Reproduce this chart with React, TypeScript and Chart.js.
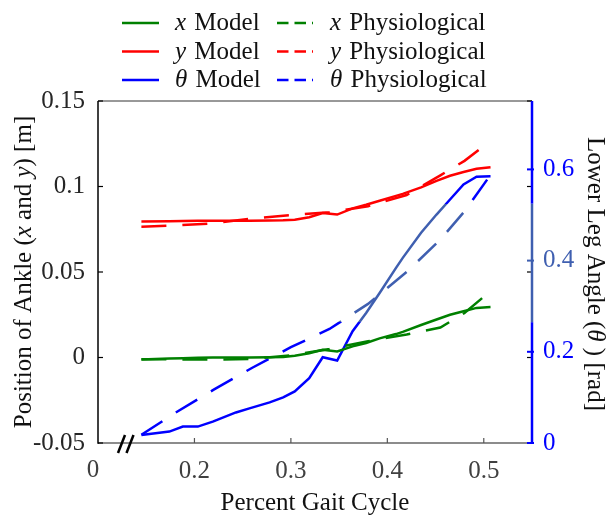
import React, { useEffect, useRef } from 'react';
import { Chart, registerables } from 'chart.js';

Chart.register(...registerables);

// ---------- data ----------
const modelX = [0.145, 0.174, 0.188, 0.2035, 0.219, 0.243, 0.257, 0.278, 0.292, 0.304, 0.319, 0.333, 0.348, 0.364, 0.378, 0.392, 0.409, 0.416, 0.435, 0.451, 0.465, 0.479, 0.4925, 0.507];
const xModel = [-0.0012, -0.0006, -0.0004, -0.0002, 0, 0, 0, 0.0001, 0.0003, 0.001, 0.0025, 0.0045, 0.0035, 0.0065, 0.0085, 0.0112, 0.0137, 0.015, 0.019, 0.0222, 0.025, 0.027, 0.029, 0.0295];
const yModel = [0.0796, 0.0797, 0.0798, 0.0799, 0.08, 0.08, 0.08, 0.0801, 0.0802, 0.0806, 0.082, 0.0845, 0.0836, 0.0872, 0.0893, 0.0917, 0.0945, 0.0957, 0.0995, 0.1033, 0.1063, 0.1085, 0.1104, 0.1113];
const thetaModel = [0.0176, 0.025, 0.036, 0.036, 0.047, 0.067, 0.076, 0.089, 0.1, 0.113, 0.142, 0.188, 0.181, 0.245, 0.285, 0.329, 0.384, 0.406, 0.461, 0.501, 0.534, 0.567, 0.584, 0.585];

const physioX = [0.145, 0.18, 0.22, 0.26, 0.3, 0.34, 0.38, 0.42, 0.455, 0.48, 0.503];
const xPhysio = [-0.001, -0.0011, -0.0012, -0.0008, 0.0012, 0.005, 0.0095, 0.0135, 0.0175, 0.026, 0.037];
const yPhysio = [0.0765, 0.0772, 0.0785, 0.0813, 0.0833, 0.0849, 0.0885, 0.095, 0.1065, 0.115, 0.125];
const thetaPhysioX = [0.145, 0.18, 0.22, 0.26, 0.3, 0.34, 0.38, 0.42, 0.455, 0.48, 0.507];
const thetaPhysio = [0.018, 0.066, 0.117, 0.165, 0.21, 0.25, 0.305, 0.375, 0.446, 0.508, 0.588];

const xTicks = [0.1, 0.2, 0.3, 0.4, 0.5];
const xTickLabels = ['0', '0.2', '0.3', '0.4', '0.5'];
const leftTicks = [-0.05, 0, 0.05, 0.1, 0.15];
const leftTickLabels = ['-0.05', '0', '0.05', '0.1', '0.15'];
const rightTicks = [0, 0.2, 0.4, 0.6];
const rightTickLabels = ['0', '0.2', '0.4', '0.6'];

const legendVars = ['x', 'y', 'θ'];
const legendKinds = ['Model', 'Physiological'];

const xTitle = 'Percent Gait Cycle';
const leftTitle = [
  { t: 'Position of Ankle (', i: false },
  { t: 'x', i: true },
  { t: ' and ', i: false },
  { t: 'y', i: true },
  { t: ') [m]', i: false },
];
const rightTitle = [
  { t: 'Lower Leg Angle (', i: false },
  { t: 'θ', i: true },
  { t: ' ) [rad]', i: false },
];

// ---------- styles ----------
const FAMILY = '"Liberation Serif", "Times New Roman", serif';
const FS = 25;
const GREEN = '#008000';
const RED = '#ff0000';
const BLUE = '#0000ff';
const STEEL = '#3f5fb0';
const BAND_LO = 0.265;
const BAND_HI = 0.525;
const PLOT_DASH = [25, 16];
const LEG_DASH = [11.5, 6];

const zip = (xs: number[], ys: number[]) => xs.map((x, i) => ({ x, y: ys[i] }));

function thetaStroke(ctx: any) {
  const chart = ctx.chart;
  const s = chart && chart.scales && chart.scales.y2;
  if (!s || !chart.chartArea) return BLUE;
  const span = s.bottom - s.top;
  if (!(span > 0)) return BLUE;
  const f = (p: number) => Math.min(1, Math.max(0, (s.bottom - p) / span));
  const lo = f(s.getPixelForValue(BAND_LO));
  const hi = f(s.getPixelForValue(BAND_HI));
  const g = chart.ctx.createLinearGradient(0, s.bottom, 0, s.top);
  g.addColorStop(0, BLUE);
  g.addColorStop(lo, BLUE);
  g.addColorStop(lo, STEEL);
  g.addColorStop(hi, STEEL);
  g.addColorStop(hi, BLUE);
  g.addColorStop(1, BLUE);
  return g;
}

function seg(c: CanvasRenderingContext2D, x1: number, y1: number, x2: number, y2: number, color: string, w: number) {
  c.beginPath();
  c.strokeStyle = color;
  c.lineWidth = w;
  c.setLineDash([]);
  c.moveTo(x1, y1);
  c.lineTo(x2, y2);
  c.stroke();
}

function fontOf(italic: boolean) {
  return `${italic ? 'italic ' : ''}${FS}px ${FAMILY}`;
}

function drawRich(c: CanvasRenderingContext2D, parts: { t: string; i: boolean }[], cx: number, cy: number, rot: number, color: string) {
  c.save();
  c.translate(cx, cy);
  c.rotate(rot);
  c.fillStyle = color;
  c.textBaseline = 'alphabetic';
  c.textAlign = 'left';
  let total = 0;
  const widths = parts.map((p) => {
    c.font = fontOf(p.i);
    const w = c.measureText(p.t).width;
    total += w;
    return w;
  });
  let x = -total / 2;
  parts.forEach((p, k) => {
    c.font = fontOf(p.i);
    c.fillText(p.t, x, 0);
    x += widths[k];
  });
  c.restore();
}

const decorPlugin = {
  id: 'decor',
  afterDraw(chart: any) {
    const c: CanvasRenderingContext2D = chart.ctx;
    const a = chart.chartArea;
    const { x, y, y2 } = chart.scales;
    c.save();
    c.lineCap = 'butt';

    // box lines
    seg(c, a.left, a.top, a.right, a.top, '#333333', 1);
    seg(c, a.left, a.bottom, a.right, a.bottom, '#666666', 1.5);
    seg(c, a.left, a.top, a.left, a.bottom + 0.75, '#000000', 1.5);

    // inward x ticks
    xTicks.slice(1).forEach((v) => {
      const px = x.getPixelForValue(v);
      seg(c, px, a.bottom, px, a.bottom - 5, '#555555', 1.2);
    });
    // left ticks + mirrored on right
    leftTicks.forEach((v) => {
      const py = y.getPixelForValue(v);
      seg(c, a.left, py, a.left + 5, py, '#000000', 1.2);
      seg(c, a.right - 5, py, a.right, py, '#000000', 1.2);
    });

    // right axis line with band
    const pLo = y2.getPixelForValue(BAND_LO);
    const pHi = y2.getPixelForValue(BAND_HI);
    seg(c, a.right, a.bottom + 1, a.right, pLo, BLUE, 2.5);
    seg(c, a.right, pLo, a.right, pHi, STEEL, 2.5);
    seg(c, a.right, pHi, a.right, a.top, BLUE, 2.5);
    rightTicks.forEach((v) => {
      const py = y2.getPixelForValue(v);
      const col = v >= BAND_LO && v <= BAND_HI ? STEEL : BLUE;
      seg(c, a.right - 5, py, a.right + 2, py, col, 2);
    });

    // axis break mark
    seg(c, a.left + 20, a.bottom + 10, a.left + 27, a.bottom - 8, '#000000', 2.5);
    seg(c, a.left + 28.5, a.bottom + 10, a.left + 35.5, a.bottom - 8, '#000000', 2.5);

    // the "0" label at the break
    c.font = fontOf(false);
    c.fillStyle = '#404040';
    c.textAlign = 'center';
    c.textBaseline = 'middle';
    c.fillText(xTickLabels[0], x.getPixelForValue(xTicks[0]) - 5, a.bottom + 27);

    // legend
    const rowY = [23, 51.5, 80];
    const colLine = [[122, 159], [277, 313]];
    const colText = [175, 330];
    chart.data.datasets.forEach((ds: any) => {
      const r = ds.varIdx;
      const k = ds.kindIdx;
      const yy = rowY[r];
      c.beginPath();
      c.strokeStyle = ds.legendColor;
      c.lineWidth = 2.6;
      c.setLineDash(k === 1 ? LEG_DASH : []);
      c.moveTo(colLine[k][0], yy);
      c.lineTo(colLine[k][1], yy);
      c.stroke();
      c.setLineDash([]);
      c.fillStyle = '#111111';
      c.textAlign = 'left';
      c.textBaseline = 'alphabetic';
      c.font = fontOf(true);
      const vName = legendVars[r];
      c.fillText(vName, colText[k], yy + 7);
      const w = c.measureText(vName).width;
      c.font = fontOf(false);
      c.fillText(' ' + legendKinds[k], colText[k] + w + 2, yy + 7);
    });

    // titles
    drawRich(c, leftTitle, 31, (a.top + a.bottom) / 2, -Math.PI / 2, '#111111');
    drawRich(c, rightTitle, 588, (a.top + a.bottom) / 2 + 2, Math.PI / 2, '#111111');
    drawRich(c, [{ t: xTitle, i: false }], (a.left + a.right) / 2, 510, 0, '#111111');

    c.restore();
  },
};

function buildDatasets() {
  const defs = [
    { xs: modelX, ys: xModel, color: GREEN, varIdx: 0, kindIdx: 0, axis: 'y' },
    { xs: physioX, ys: xPhysio, color: GREEN, varIdx: 0, kindIdx: 1, axis: 'y' },
    { xs: modelX, ys: yModel, color: RED, varIdx: 1, kindIdx: 0, axis: 'y' },
    { xs: physioX, ys: yPhysio, color: RED, varIdx: 1, kindIdx: 1, axis: 'y' },
    { xs: modelX, ys: thetaModel, color: BLUE, varIdx: 2, kindIdx: 0, axis: 'y2' },
    { xs: thetaPhysioX, ys: thetaPhysio, color: BLUE, varIdx: 2, kindIdx: 1, axis: 'y2' },
  ];
  return defs.map((d) => ({
    label: `${legendVars[d.varIdx]} ${legendKinds[d.kindIdx]}`,
    data: zip(d.xs, d.ys),
    yAxisID: d.axis,
    borderColor: d.axis === 'y2' ? thetaStroke : d.color,
    legendColor: d.color,
    varIdx: d.varIdx,
    kindIdx: d.kindIdx,
    borderWidth: 2.5,
    borderDash: d.kindIdx === 1 ? PLOT_DASH : [],
    pointRadius: 0,
    pointHoverRadius: 0,
    tension: 0,
    fill: false,
  }));
}

export default function App() {
  const ref = useRef<HTMLCanvasElement>(null);
  useEffect(() => {
    if (!ref.current) return;
    const font = { family: FAMILY, size: FS };
    const chart = new Chart(ref.current, {
      type: 'line',
      data: { datasets: buildDatasets() as any },
      options: {
        animation: false,
        responsive: true,
        maintainAspectRatio: false,
        layout: { padding: { top: 101, left: 0, right: 0, bottom: 0 } },
        plugins: { legend: { display: false }, tooltip: { enabled: false } },
        scales: {
          x: {
            type: 'linear',
            min: 0.1,
            max: 0.55,
            grid: { display: false, drawTicks: false },
            border: { display: false },
            ticks: {
              padding: 13,
              color: '#404040',
              font,
              autoSkip: false,
              maxRotation: 0,
              callback: (v: any) => {
                const i = xTicks.indexOf(Number(v));
                return i <= 0 ? '' : xTickLabels[i];
              },
            },
            afterBuildTicks: (s: any) => {
              s.ticks = xTicks.map((value) => ({ value }));
            },
            afterFit: (s: any) => {
              s.height = 73;
            },
          },
          y: {
            type: 'linear',
            position: 'left',
            min: -0.05,
            max: 0.15,
            grid: { display: false, drawTicks: false },
            border: { display: false },
            ticks: {
              padding: 13,
              color: '#262626',
              font,
              autoSkip: false,
              callback: (v: any) => {
                const i = leftTicks.findIndex((t) => Math.abs(t - Number(v)) < 1e-9);
                return i < 0 ? '' : leftTickLabels[i];
              },
            },
            afterBuildTicks: (s: any) => {
              s.ticks = leftTicks.map((value) => ({ value }));
            },
            afterFit: (s: any) => {
              s.width = 98;
            },
          },
          y2: {
            type: 'linear',
            position: 'right',
            min: 0,
            max: 0.75,
            grid: { display: false, drawTicks: false },
            border: { display: false },
            ticks: {
              padding: 11,
              font,
              autoSkip: false,
              color: (c: any) => {
                const v = c && c.tick ? c.tick.value : 0;
                return v >= BAND_LO && v <= BAND_HI ? STEEL : BLUE;
              },
              callback: (v: any) => {
                const i = rightTicks.findIndex((t) => Math.abs(t - Number(v)) < 1e-9);
                return i < 0 ? '' : rightTickLabels[i];
              },
            },
            afterBuildTicks: (s: any) => {
              s.ticks = rightTicks.map((value) => ({ value }));
            },
            afterFit: (s: any) => {
              s.width = 83;
            },
          },
        },
      } as any,
      plugins: [decorPlugin],
    });
    return () => chart.destroy();
  }, []);

  return (
    <div style={{ position: 'fixed', left: 0, top: 0, width: 615, height: 516, background: '#ffffff' }}>
      <canvas ref={ref} />
    </div>
  );
}
